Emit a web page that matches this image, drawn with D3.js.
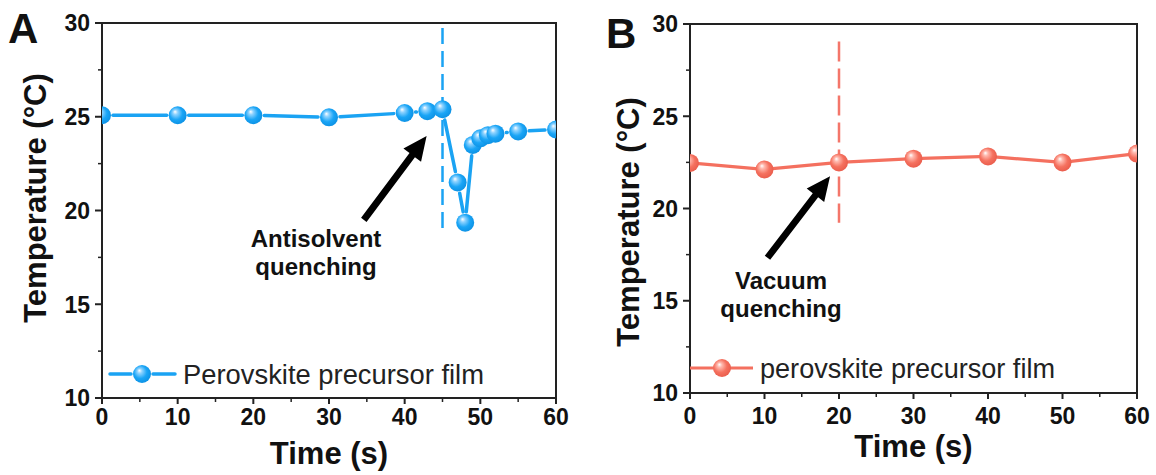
<!DOCTYPE html>
<html>
<head>
<meta charset="utf-8">
<script src="https://cdn.jsdelivr.net/npm/d3@7"></script>
<style>
  body { margin: 0; background: #fff; }
  text { font-family: "Liberation Sans", Arial, sans-serif; }
</style>
</head>
<body>
<script>
// panel A: antisolvent quenching
const timeA = [0, 10, 20, 30, 40, 43, 45, 47, 48, 49, 50, 51, 52, 55, 60];
const tempA = [25.08, 25.08, 25.08, 24.97, 25.2, 25.3, 25.4, 21.5, 19.35, 23.5, 23.85, 24.02, 24.1, 24.22, 24.32];
// panel B: vacuum quenching
const timeB = [0, 10, 20, 30, 40, 50, 60];
const tempB = [22.47, 22.12, 22.5, 22.7, 22.82, 22.5, 22.98];

const xTicks = [0, 10, 20, 30, 40, 50, 60];
const xMinor = [5, 15, 25, 35, 45, 55];
const yTicks = [10, 15, 20, 25, 30];
const yMinor = [12.5, 17.5, 22.5, 27.5];

const svg = d3.select("body").append("svg")
  .attr("width", 1156)
  .attr("height", 475);

const defs = svg.append("defs");

function sphere(id, c0, c1, c2) {
  const g = defs.append("radialGradient")
    .attr("id", id)
    .attr("cx", "45%").attr("cy", "45%").attr("r", "60%")
    .attr("fx", "35%").attr("fy", "30%");
  g.append("stop").attr("offset", "0%").attr("stop-color", "#ffffff");
  g.append("stop").attr("offset", "22%").attr("stop-color", c0);
  g.append("stop").attr("offset", "60%").attr("stop-color", c1);
  g.append("stop").attr("offset", "100%").attr("stop-color", c2);
}
sphere("ballBlue", "#8fd3ff", "#1aa5f6", "#0b8fe2");
sphere("ballRed", "#ffb8ad", "#f5715f", "#e85a4a");

function drawPanel(p) {
  const x = d3.scaleLinear().domain([0, 60]).range([p.left, p.right]);
  const y = d3.scaleLinear().domain([10, 30]).range([p.bottom, p.top]);
  const g = svg.append("g");

  defs.append("clipPath").attr("id", "clip" + p.name)
    .append("rect")
    .attr("x", p.left).attr("y", p.top)
    .attr("width", p.right - p.left).attr("height", p.bottom - p.top);

  // minor ticks
  g.selectAll(".xm").data(xMinor).join("line")
    .attr("x1", d => x(d)).attr("x2", d => x(d))
    .attr("y1", p.bottom).attr("y2", p.bottom + 4)
    .attr("stroke", "#222").attr("stroke-width", 1.5);
  g.selectAll(".ym").data(yMinor).join("line")
    .attr("y1", d => y(d)).attr("y2", d => y(d))
    .attr("x1", p.left).attr("x2", p.left - 4)
    .attr("stroke", "#222").attr("stroke-width", 1.5);

  // major ticks + labels
  g.selectAll(".xt").data(xTicks).join("line")
    .attr("x1", d => x(d)).attr("x2", d => x(d))
    .attr("y1", p.bottom).attr("y2", p.bottom + 6)
    .attr("stroke", "#222").attr("stroke-width", 2);
  g.selectAll(".yt").data(yTicks).join("line")
    .attr("y1", d => y(d)).attr("y2", d => y(d))
    .attr("x1", p.left).attr("x2", p.left - 7)
    .attr("stroke", "#222").attr("stroke-width", 2);

  g.selectAll(".xl").data(xTicks).join("text")
    .attr("x", d => x(d)).attr("y", p.xTickY)
    .attr("text-anchor", "middle")
    .attr("font-size", 23).attr("font-weight", "bold").attr("fill", "#111")
    .text(d => d);
  g.selectAll(".yl").data(yTicks).join("text")
    .attr("x", p.left - 12).attr("y", d => y(d))
    .attr("dy", "0.36em")
    .attr("text-anchor", "end")
    .attr("font-size", 23).attr("font-weight", "bold").attr("fill", "#111")
    .text(d => d);

  // frame
  g.append("rect")
    .attr("x", p.left).attr("y", p.top)
    .attr("width", p.right - p.left).attr("height", p.bottom - p.top)
    .attr("fill", "none").attr("stroke", "#222").attr("stroke-width", 2);

  // axis titles
  g.append("text")
    .attr("x", (p.left + p.right) / 2).attr("y", p.xTitleY)
    .attr("text-anchor", "middle")
    .attr("font-size", 31).attr("font-weight", "bold").attr("fill", "#111")
    .text("Time (s)");
  g.append("text")
    .attr("transform", `translate(${p.yTitleX},${p.yTitleMid}) rotate(-90)`)
    .attr("text-anchor", "middle")
    .attr("font-size", 31).attr("font-weight", "bold").attr("fill", "#111")
    .text("Temperature (°C)");

  // panel letter
  g.append("text")
    .attr("x", p.letterX).attr("y", p.letterY)
    .attr("font-size", 42).attr("font-weight", "bold").attr("fill", "#111")
    .text(p.name);

  // dashed marker line
  g.append("line")
    .attr("x1", x(p.dash.x)).attr("x2", x(p.dash.x))
    .attr("y1", y(p.dash.y0)).attr("y2", y(p.dash.y1))
    .attr("stroke", p.dashColor).attr("stroke-width", 2.5)
    .attr("stroke-dasharray", p.dashArray);

  // data line + balls
  const plot = g.append("g").attr("clip-path", `url(#clip${p.name})`);
  const pts = p.xs.map((t, i) => [x(t), y(p.ys[i])]);
  const r = 9;
  if (p.gap) {
    const segs = [];
    for (let i = 0; i < pts.length - 1; i++) {
      const [ax, ay] = pts[i], [bx, by] = pts[i + 1];
      const len = Math.hypot(bx - ax, by - ay);
      const cut = r + 2;
      if (len > 2 * cut) {
        const ux = (bx - ax) / len, uy = (by - ay) / len;
        segs.push([[ax + ux * cut, ay + uy * cut], [bx - ux * cut, by - uy * cut]]);
      }
    }
    plot.selectAll(".seg").data(segs).join("line")
      .attr("x1", d => d[0][0]).attr("y1", d => d[0][1])
      .attr("x2", d => d[1][0]).attr("y2", d => d[1][1])
      .attr("stroke", p.color).attr("stroke-width", 3.5)
      .attr("stroke-linecap", "round");
  } else {
    plot.append("path")
      .attr("d", d3.line()(pts))
      .attr("fill", "none")
      .attr("stroke", p.color).attr("stroke-width", 3.2);
  }
  plot.selectAll(".ball").data(pts).join("circle")
    .attr("cx", d => d[0]).attr("cy", d => d[1]).attr("r", r)
    .attr("fill", `url(#${p.ball})`);

  // arrow
  const [tx, ty] = [x(p.arrow.x0), y(p.arrow.y0)];
  const [hx, hy] = [x(p.arrow.x1), y(p.arrow.y1)];
  const len = Math.hypot(hx - tx, hy - ty);
  const ux = (hx - tx) / len, uy = (hy - ty) / len;
  const nx = -uy, ny = ux;
  const headL = 24, headW = 11, shaft = 3.4;
  const bx = hx - ux * headL, by = hy - uy * headL;
  const poly = [
    [tx + nx * shaft, ty + ny * shaft],
    [bx + nx * shaft, by + ny * shaft],
    [bx + nx * headW, by + ny * headW],
    [hx, hy],
    [bx - nx * headW, by - ny * headW],
    [bx - nx * shaft, by - ny * shaft],
    [tx - nx * shaft, ty - ny * shaft]
  ];
  g.append("path")
    .attr("d", "M" + poly.map(q => q.join(",")).join("L") + "Z")
    .attr("fill", "#000");

  // annotation
  const note = g.append("text")
    .attr("text-anchor", "middle")
    .attr("font-size", 24).attr("font-weight", "bold").attr("fill", "#111");
  p.note.forEach((s, i) => {
    note.append("tspan").attr("x", p.noteX).attr("y", p.noteY + i * 28).text(s);
  });

  // legend
  const lg = g.append("g");
  const ly = p.legendY;
  if (p.gap) {
    lg.append("line").attr("x1", p.left + 8).attr("x2", p.left + 29)
      .attr("y1", ly).attr("y2", ly)
      .attr("stroke", p.color).attr("stroke-width", 3.5).attr("stroke-linecap", "round");
    lg.append("line").attr("x1", p.left + 51).attr("x2", p.left + 73)
      .attr("y1", ly).attr("y2", ly)
      .attr("stroke", p.color).attr("stroke-width", 3.5).attr("stroke-linecap", "round");
  } else {
    lg.append("line").attr("x1", p.left).attr("x2", p.left + 63)
      .attr("y1", ly).attr("y2", ly)
      .attr("stroke", p.color).attr("stroke-width", 3.2);
  }
  lg.append("circle")
    .attr("cx", p.gap ? p.left + 40 : p.left + 32).attr("cy", ly).attr("r", r)
    .attr("fill", `url(#${p.ball})`);
  lg.append("text")
    .attr("x", p.legendTextX).attr("y", ly + 10)
    .attr("font-size", 27).attr("fill", "#222")
    .attr("textLength", p.legendW).attr("lengthAdjust", "spacingAndGlyphs")
    .text(p.legendText);
}

drawPanel({
  name: "A", left: 102, right: 556, top: 23, bottom: 398,
  xs: timeA, ys: tempA, color: "#1aa3f3", ball: "ballBlue", gap: true,
  dash: { x: 45, y0: 29.73, y1: 18.96 }, dashColor: "#1aa3f3", dashArray: "16,7",
  arrow: { x0: 34.6, y0: 19.5, x1: 42.9, y1: 23.98 },
  note: ["Antisolvent", "quenching"], noteX: 316, noteY: 247,
  legendY: 374, legendTextX: 183, legendW: 301, legendText: "Perovskite precursor film",
  xTickY: 425, xTitleY: 464, yTitleX: 46, yTitleMid: 198, letterX: 8, letterY: 43
});

drawPanel({
  name: "B", left: 690, right: 1137, top: 24, bottom: 393,
  xs: timeB, ys: tempB, color: "#f4705f", ball: "ballRed", gap: false,
  dash: { x: 20, y0: 29.05, y1: 19.23 }, dashColor: "#f4766a", dashArray: "20,7",
  arrow: { x0: 10.4, y0: 17.33, x1: 18.8, y1: 21.75 },
  note: ["Vacuum", "quenching"], noteX: 781, noteY: 289,
  legendY: 368, legendTextX: 760, legendW: 295, legendText: "perovskite precursor film",
  xTickY: 424, xTitleY: 457, yTitleX: 639, yTitleMid: 222, letterX: 606, letterY: 48
});
</script>
</body>
</html>
